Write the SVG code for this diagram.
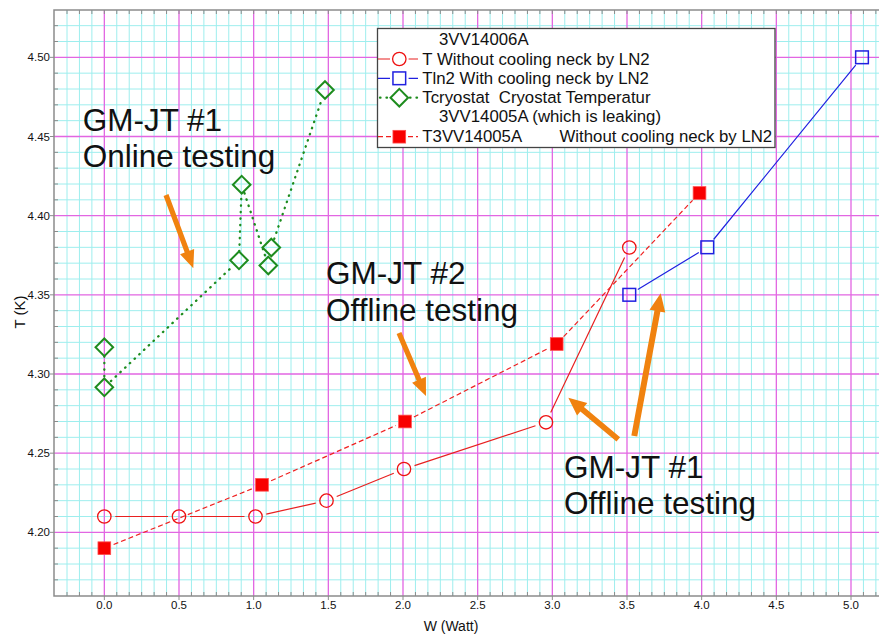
<svg xmlns="http://www.w3.org/2000/svg" xmlns:xlink="http://www.w3.org/1999/xlink" width="879" height="644" viewBox="0 0 879 644">
  <style>
    text { font-family: "Liberation Sans", Arial, sans-serif; fill: #111; }
    .minor { stroke: #9eeeee; stroke-width: 1; fill: none; }
    .major { stroke: #e266e2; stroke-width: 1.3; fill: none; }
    .frame { stroke: #8c8c8c; stroke-width: 1.5; fill: none; }
    .tick { stroke: #8c8c8c; stroke-width: 1; fill: none; }
    .ytl { font-size: 11.5px; text-anchor: end; }
    .xtl { font-size: 11.5px; text-anchor: middle; }
    .axt { font-size: 14px; text-anchor: middle; }
    .note { font-size: 31.5px; }
    .leg { font-size: 16.8px; white-space: pre; }
    .sT { stroke: #e82020; stroke-width: 1.2; fill: none; }
    .sB { stroke: #2020e0; stroke-width: 1.2; fill: none; }
    .sG { stroke: #1e8c1e; stroke-width: 2.3; fill: none; stroke-dasharray: 0.5 6; stroke-linecap: round; }
    .sR { stroke: #f02020; stroke-width: 1.2; fill: none; stroke-dasharray: 5 3; }
    .mC { stroke: #ee1111; stroke-width: 1.3; fill: none; }
    .mB { stroke: #2020e0; stroke-width: 1.5; fill: none; }
    .mG { stroke: #1e8c1e; stroke-width: 2; fill: none; }
    .mR { fill: #f80000; stroke: #ff4d4d; stroke-width: 0.8; }
    .arrow { fill: #f0820f; }
  </style>
  <defs>
    <circle id="circ" r="6.7"/>
    <rect id="sq" x="-6.35" y="-6.35" width="12.7" height="12.7"/>
    <path id="dia" d="M0,-8.8 L8.8,0 L0,8.8 L-8.8,0 Z"/>
  </defs>

  <!-- grid -->
  <g id="grid">
    <path class="minor" d="M67 10V596M79.44 10V596M91.89 10V596M116.78 10V596M129.22 10V596M141.67 10V596M154.11 10V596M166.56 10V596M191.44 10V596M203.89 10V596M216.33 10V596M228.78 10V596M241.22 10V596M266.11 10V596M278.56 10V596M291 10V596M303.44 10V596M315.89 10V596M340.78 10V596M353.22 10V596M365.67 10V596M378.11 10V596M390.56 10V596M415.44 10V596M427.89 10V596M440.33 10V596M452.78 10V596M465.22 10V596M490.11 10V596M502.56 10V596M515 10V596M527.44 10V596M539.89 10V596M564.78 10V596M577.22 10V596M589.67 10V596M602.11 10V596M614.56 10V596M639.44 10V596M651.89 10V596M664.33 10V596M676.78 10V596M689.22 10V596M714.11 10V596M726.56 10V596M739 10V596M751.44 10V596M763.89 10V596M788.78 10V596M801.22 10V596M813.67 10V596M826.11 10V596M838.56 10V596M863.44 10V596M875.89 10V596"/>
    <path class="minor" d="M54 25.67H879M54 41.5H879M54 73.17H879M54 89H879M54 104.83H879M54 120.67H879M54 152.33H879M54 168.17H879M54 184H879M54 199.83H879M54 231.5H879M54 247.33H879M54 263.17H879M54 279H879M54 310.67H879M54 326.5H879M54 342.33H879M54 358.17H879M54 389.83H879M54 405.67H879M54 421.5H879M54 437.33H879M54 469H879M54 484.83H879M54 500.67H879M54 516.5H879M54 548.17H879M54 564H879M54 579.83H879"/>
    <path class="major" d="M104.33 10V596M179 10V596M253.67 10V596M328.33 10V596M403 10V596M477.67 10V596M552.33 10V596M627 10V596M701.67 10V596M776.33 10V596M851 10V596"/>
    <path class="major" d="M54 57.33H879M54 136.5H879M54 215.67H879M54 294.83H879M54 374H879M54 453.17H879M54 532.33H879"/>
  </g>

  <!-- axes, ticks and tick labels -->
  <g id="axes">
    <path class="frame" d="M879 10H54V596H879"/>
    <path class="tick" d="M54 25.67h4M54 41.5h4M54 73.17h4M54 89h4M54 104.83h4M54 120.67h4M54 152.33h4M54 168.17h4M54 184h4M54 199.83h4M54 231.5h4M54 247.33h4M54 263.17h4M54 279h4M54 310.67h4M54 326.5h4M54 342.33h4M54 358.17h4M54 389.83h4M54 405.67h4M54 421.5h4M54 437.33h4M54 469h4M54 484.83h4M54 500.67h4M54 516.5h4M54 548.17h4M54 564h4M54 579.83h4M50 57.33h4M50 136.5h4M50 215.67h4M50 294.83h4M50 374h4M50 453.17h4M50 532.33h4"/>
    <path class="tick" d="M67 10v4M79.44 10v4M91.89 10v4M104.33 10v4M116.78 10v4M129.22 10v4M141.67 10v4M154.11 10v4M166.56 10v4M179 10v4M191.44 10v4M203.89 10v4M216.33 10v4M228.78 10v4M241.22 10v4M253.67 10v4M266.11 10v4M278.56 10v4M291 10v4M303.44 10v4M315.89 10v4M328.33 10v4M340.78 10v4M353.22 10v4M365.67 10v4M378.11 10v4M390.56 10v4M403 10v4M415.44 10v4M427.89 10v4M440.33 10v4M452.78 10v4M465.22 10v4M477.67 10v4M490.11 10v4M502.56 10v4M515 10v4M527.44 10v4M539.89 10v4M552.33 10v4M564.78 10v4M577.22 10v4M589.67 10v4M602.11 10v4M614.56 10v4M627 10v4M639.44 10v4M651.89 10v4M664.33 10v4M676.78 10v4M689.22 10v4M701.67 10v4M714.11 10v4M726.56 10v4M739 10v4M751.44 10v4M763.89 10v4M776.33 10v4M788.78 10v4M801.22 10v4M813.67 10v4M826.11 10v4M838.56 10v4M851 10v4M863.44 10v4M875.89 10v4"/>
    <path class="tick" d="M67 596v-4M79.44 596v-4M91.89 596v-4M104.33 596v4M116.78 596v-4M129.22 596v-4M141.67 596v-4M154.11 596v-4M166.56 596v-4M179 596v4M191.44 596v-4M203.89 596v-4M216.33 596v-4M228.78 596v-4M241.22 596v-4M253.67 596v4M266.11 596v-4M278.56 596v-4M291 596v-4M303.44 596v-4M315.89 596v-4M328.33 596v4M340.78 596v-4M353.22 596v-4M365.67 596v-4M378.11 596v-4M390.56 596v-4M403 596v4M415.44 596v-4M427.89 596v-4M440.33 596v-4M452.78 596v-4M465.22 596v-4M477.67 596v4M490.11 596v-4M502.56 596v-4M515 596v-4M527.44 596v-4M539.89 596v-4M552.33 596v4M564.78 596v-4M577.22 596v-4M589.67 596v-4M602.11 596v-4M614.56 596v-4M627 596v4M639.44 596v-4M651.89 596v-4M664.33 596v-4M676.78 596v-4M689.22 596v-4M701.67 596v4M714.11 596v-4M726.56 596v-4M739 596v-4M751.44 596v-4M763.89 596v-4M776.33 596v4M788.78 596v-4M801.22 596v-4M813.67 596v-4M826.11 596v-4M838.56 596v-4M851 596v4M863.44 596v-4M875.89 596v-4"/>
    <g>
      <text class="ytl" x="50" y="61.3">4.50</text>
      <text class="ytl" x="50" y="140.5">4.45</text>
      <text class="ytl" x="50" y="219.7">4.40</text>
      <text class="ytl" x="50" y="298.8">4.35</text>
      <text class="ytl" x="50" y="378">4.30</text>
      <text class="ytl" x="50" y="457.2">4.25</text>
      <text class="ytl" x="50" y="536.3">4.20</text>
    </g>
    <g>
      <text class="xtl" x="104.33" y="609">0.0</text>
      <text class="xtl" x="179" y="609">0.5</text>
      <text class="xtl" x="253.67" y="609">1.0</text>
      <text class="xtl" x="328.33" y="609">1.5</text>
      <text class="xtl" x="403" y="609">2.0</text>
      <text class="xtl" x="477.67" y="609">2.5</text>
      <text class="xtl" x="552.33" y="609">3.0</text>
      <text class="xtl" x="627" y="609">3.5</text>
      <text class="xtl" x="701.67" y="609">4.0</text>
      <text class="xtl" x="776.33" y="609">4.5</text>
      <text class="xtl" x="851" y="609">5.0</text>
    </g>
    <text class="axt" transform="translate(25 312) rotate(-90)" style="font-size:15px">T (K)</text>
    <text class="axt" x="451" y="631">W (Watt)</text>
  </g>

  <!-- connecting lines of each series -->
  <g id="connectors">
    <path class="sT" d="M115.3 516.5H168M190 516.5H244.5M266.24 514.1L315.76 503.06M336.7 496.5L393.8 473.2M414.5 465.6L535.5 425.7M550.7 412.4L624.6 257.4"/>
    <path class="sB" d="M637.8 289.6L698.8 252.5M713.6 239.5L855.7 65.1"/>
    <path class="sG" d="M104.33 356.3V378.3M110.9 381.1L232.5 266.5M239.3 251.3L241.4 193.7M244.5 193.2L265.5 257M274.2 239L322.1 98.5"/>
    <path class="sR" d="M113.6 544.5L252.7 488.5M271.1 480.8L395.9 425.5M413.9 417L547.8 348.6M563.6 336.7L692.6 200.3"/>
  </g>

  <!-- series T: without cooling neck by LN2 -->
  <g id="series-T" class="mC">
    <use href="#circ" x="104.33" y="516.5"/>
    <use href="#circ" x="179" y="516.5"/>
    <use href="#circ" x="255.5" y="516.5"/>
    <use href="#circ" x="326.5" y="500.67"/>
    <use href="#circ" x="404" y="469"/>
    <use href="#circ" x="546" y="422.3"/>
    <use href="#circ" x="629.3" y="247.5"/>
  </g>
  <!-- series Tln2: with cooling neck by LN2 -->
  <g id="series-Tln2" class="mB">
    <use href="#sq" x="629.3" y="294.8"/>
    <use href="#sq" x="707.3" y="247.3"/>
    <use href="#sq" x="862" y="57.3"/>
  </g>
  <!-- series Tcryostat -->
  <g id="series-Tcryostat" class="mG">
    <use href="#dia" x="104.33" y="347.3"/>
    <use href="#dia" x="104.33" y="387.3"/>
    <use href="#dia" x="239" y="260.3"/>
    <use href="#dia" x="241.7" y="184.7"/>
    <use href="#dia" x="268.3" y="265.5"/>
    <use href="#dia" x="271.3" y="247.5"/>
    <use href="#dia" x="325" y="90"/>
  </g>
  <!-- series T3VV14005A -->
  <g id="series-T3VV14005A" class="mR">
    <use href="#sq" x="104.33" y="548.2"/>
    <use href="#sq" x="262" y="484.8"/>
    <use href="#sq" x="405" y="421.5"/>
    <use href="#sq" x="556.7" y="344"/>
    <use href="#sq" x="699.5" y="193"/>
  </g>

  <!-- legend -->
  <g id="legend">
    <rect x="377.5" y="28.5" width="397.5" height="119" fill="#fff" stroke="#444" stroke-width="1.3"/>
    <text class="leg" x="439" y="44.5">3VV14006A</text>
    <path class="sT" d="M378 59H390M408.6 59H418"/>
    <use href="#circ" x="399.3" y="59" class="mC"/>
    <text class="leg" x="422.3" y="64.5">T Without cooling neck by LN2</text>
    <path class="sB" d="M378 78.3H390M408.6 78.3H418"/>
    <use href="#sq" x="399.3" y="78.3" class="mB"/>
    <text class="leg" x="422.3" y="83.8">Tln2 With cooling neck by LN2</text>
    <path class="sG" d="M380 97.7H389M410 97.7H418"/>
    <use href="#dia" x="399.3" y="97.7" class="mG"/>
    <text class="leg" x="422.3" y="103.2" xml:space="preserve">Tcryostat  Cryostat Temperatur</text>
    <text class="leg" x="439" y="122.2">3VV14005A (which is leaking)</text>
    <path class="sR" d="M378 136.7H391M408 136.7H418"/>
    <use href="#sq" x="399.3" y="136.7" class="mR"/>
    <text class="leg" x="422.3" y="142.2">T3VV14005A</text>
    <text class="leg" x="559.5" y="142.2">Without cooling neck by LN2</text>
  </g>

  <!-- annotations -->
  <g id="note-online1">
    <text class="note" x="82.7" y="131">GM-JT #1</text>
    <text class="note" x="82.7" y="167">Online testing</text>
    <path class="arrow" transform="translate(166 195) rotate(69.57)" d="M0,-2.6 L60.5,-2.6 L60.5,-7.5 L78.2,0 L60.5,7.5 L60.5,2.6 L0,2.6 Z"/>
  </g>
  <g id="note-offline2">
    <text class="note" x="326" y="284">GM-JT #2</text>
    <text class="note" x="326" y="321">Offline testing</text>
    <path class="arrow" transform="translate(399 333) rotate(66.8)" d="M0,-2.6 L50.8,-2.6 L50.8,-7.5 L68.5,0 L50.8,7.5 L50.8,2.6 L0,2.6 Z"/>
  </g>
  <g id="note-offline1">
    <text class="note" x="564" y="477.7">GM-JT #1</text>
    <text class="note" x="564" y="514">Offline testing</text>
    <path class="arrow" transform="translate(618.3 439.3) rotate(219.76)" d="M0,-2.8 L47,-2.8 L47,-8 L65,0 L47,8 L47,2.8 L0,2.8 Z"/>
    <path class="arrow" transform="translate(634.3 436) rotate(-79.52)" d="M0,-3 L127,-3 L127,-8 L145.1,0 L127,8 L127,3 L0,3 Z"/>
  </g>
</svg>
